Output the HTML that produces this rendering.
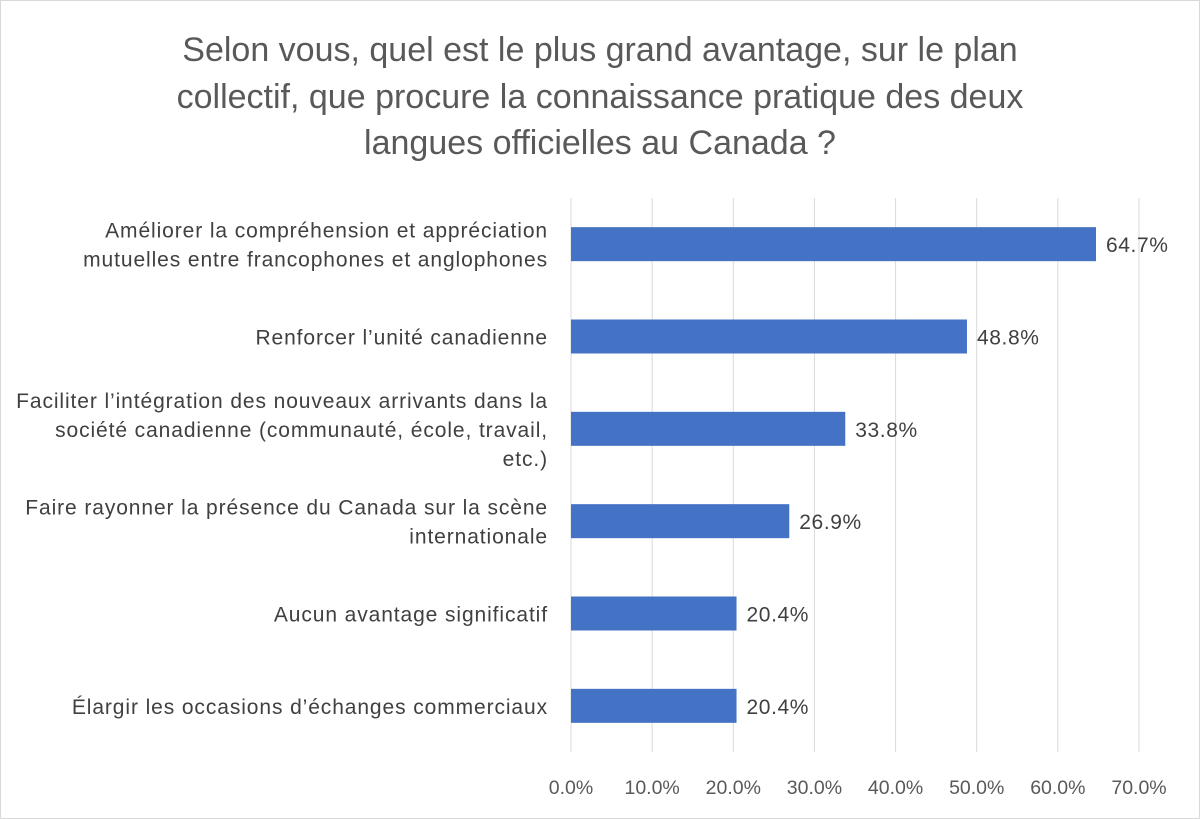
<!DOCTYPE html>
<html><head><meta charset="utf-8"><style>
body{margin:0;background:#fff;font-family:"Liberation Sans","DejaVu Sans",sans-serif;}
svg{display:block}
</style></head><body>
<svg id="chart" width="1200" height="819">
<rect x="0.5" y="0.5" width="1199" height="818" fill="#fff" stroke="#d9d9d9"/>
<g fill="#595959" font-size="34" text-anchor="middle">
<text x="600" y="61">Selon vous, quel est le plus grand avantage, sur le plan</text>
<text x="600" y="108">collectif, que procure la connaissance pratique des deux</text>
<text x="600" y="154">langues officielles au Canada ?</text>
</g>
<g id="grid"></g><g id="bars"></g><g id="labels"></g><g id="ticks"></g>
</svg>
<script>
const categories=[
["Améliorer la compréhension et appréciation","mutuelles entre francophones et anglophones"],
["Renforcer l’unité canadienne"],
["Faciliter l’intégration des nouveaux arrivants dans la","société canadienne (communauté, école, travail,","etc.)"],
["Faire rayonner la présence du Canada sur la scène","internationale"],
["Aucun avantage significatif"],
["Élargir les occasions d’échanges commerciaux"]];
const values=[64.7,48.8,33.8,26.9,20.4,20.4];
const tickValues=[0,10,20,30,40,50,60,70];
const NS="http://www.w3.org/2000/svg";
const x0=571,x1=1139,xmax=70,plotTop=198,plotBottom=752;
const band=(plotBottom-plotTop)/categories.length,bh=34;
const xs=v=>x0+(v/xmax)*(x1-x0);
const yc=i=>plotTop+band*(i+0.5);
function mk(t,a,p){const e=document.createElementNS(NS,t);for(const k in a)e.setAttribute(k,a[k]);p.appendChild(e);return e;}
const G=document.getElementById('grid'),B=document.getElementById('bars'),L=document.getElementById('labels'),T=document.getElementById('ticks');
tickValues.forEach(v=>{
 const l=mk('line',{x1:xs(v),x2:xs(v),y1:plotTop,y2:plotBottom,stroke:'#d9d9d9','stroke-width':1},G);
 
 
 const t=mk('text',{x:xs(v),y:794,'text-anchor':'middle','font-size':19.5,fill:'#595959'},T);
 t.textContent=v.toFixed(1)+'%';
 
 
});
values.forEach((v,i)=>{
 const r=mk('rect',{x:x0,y:yc(i)-bh/2,width:xs(v)-x0,height:bh,fill:'#4472c4'},B);
 
 
 const t=mk('text',{x:xs(v)+10,y:yc(i)+8,'font-size':21,'letter-spacing':0.6,fill:'#404040'},L);
 t.textContent=v.toFixed(1)+'%';
 
 
 const lines=categories[i],lh=29;
 lines.forEach((s,j)=>{
  const c=mk('text',{x:548,y:yc(i)+8+(j-(lines.length-1)/2)*lh,'text-anchor':'end','font-size':21,'letter-spacing':0.9,fill:'#404040'},L);
  c.textContent=s;
  
  
 });
});
</script>
</body></html>
